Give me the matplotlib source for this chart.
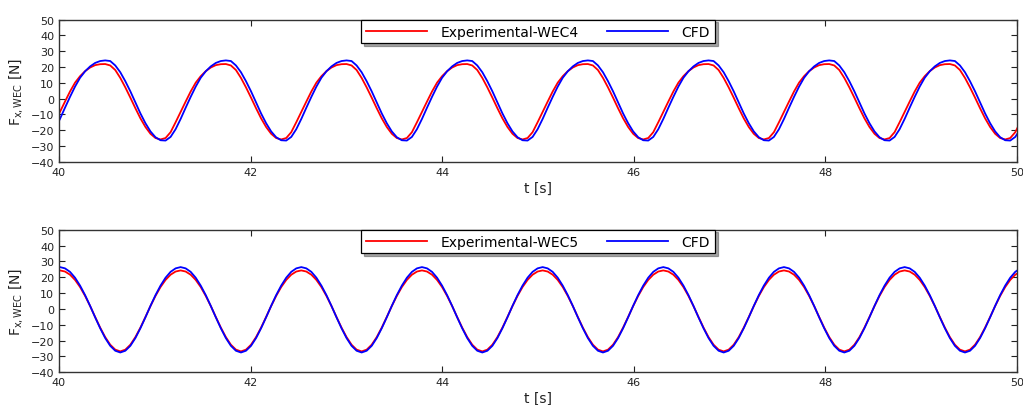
import numpy as np
import matplotlib
matplotlib.use("Agg")
import matplotlib.pyplot as plt

# ---- sampling grid (s) ----
t_start = 39.9575
dt = 0.0525
n_samples = 193
t = np.round(t_start + np.arange(n_samples) * dt, 4)

# ---- WEC4 (top panel) ----
wec4_exp = [
    -15.0, -8.4, -1.9, 4.5, 10.1, 14.2, 17.4, 19.7, 21.2, 21.8, 21.9, 21.0, 18.1, 13.1, 7.1, 0.6, -6.1, -12.5, -18.0, -22.3, -25.0,
    -25.9, -25.0, -21.3, -15.0, -8.4, -1.9, 4.5, 10.1, 14.2, 17.4, 19.7, 21.2, 21.8, 21.9, 21.0, 18.1, 13.1, 7.1, 0.6, -6.1, -12.5, -18.0, -22.3, -25.0,
    -25.9, -25.0, -21.3, -15.0, -8.4, -1.9, 4.5, 10.1, 14.2, 17.4, 19.7, 21.2, 21.8, 21.9, 21.0, 18.1, 13.1, 7.1, 0.6, -6.1, -12.5, -18.0, -22.3, -25.0,
    -25.9, -25.0, -21.3, -15.0, -8.4, -1.9, 4.5, 10.1, 14.2, 17.4, 19.7, 21.2, 21.8, 21.9, 21.0, 18.1, 13.1, 7.1, 0.6, -6.1, -12.5, -18.0, -22.3, -25.0,
    -25.9, -25.0, -21.3, -15.0, -8.4, -1.9, 4.5, 10.1, 14.2, 17.4, 19.7, 21.2, 21.8, 21.9, 21.0, 18.1, 13.1, 7.1, 0.6, -6.1, -12.5, -18.0, -22.3, -25.0,
    -25.9, -25.0, -21.3, -15.0, -8.4, -1.9, 4.5, 10.1, 14.2, 17.4, 19.7, 21.2, 21.8, 21.9, 21.0, 18.1, 13.1, 7.1, 0.6, -6.1, -12.5, -18.0, -22.3, -25.0,
    -25.9, -25.0, -21.3, -15.0, -8.4, -1.9, 4.5, 10.1, 14.2, 17.4, 19.7, 21.2, 21.8, 21.9, 21.0, 18.1, 13.1, 7.1, 0.6, -6.1, -12.5, -18.0, -22.3, -25.0,
    -25.9, -25.0, -21.3, -15.0, -8.4, -1.9, 4.5, 10.1, 14.2, 17.4, 19.7, 21.2, 21.8, 21.9, 21.0, 18.1, 13.1, 7.1, 0.6, -6.1, -12.5, -18.0, -22.3, -25.0,
    -25.9, -25.0, -21.3, -15.0,
]
wec4_cfd = [
    -19.4, -12.9, -5.8, 1.1, 7.6, 13.2, 17.3, 20.4, 22.6, 23.8, 24.2, 23.8, 21.0, 16.7, 11.0, 4.6, -2.4, -9.4, -15.6, -20.8, -24.5,
    -26.4, -26.6, -24.3, -19.4, -12.9, -5.8, 1.1, 7.6, 13.2, 17.3, 20.4, 22.6, 23.8, 24.2, 23.8, 21.0, 16.7, 11.0, 4.6, -2.4, -9.4, -15.6, -20.8, -24.5,
    -26.4, -26.6, -24.3, -19.4, -12.9, -5.8, 1.1, 7.6, 13.2, 17.3, 20.4, 22.6, 23.8, 24.2, 23.8, 21.0, 16.7, 11.0, 4.6, -2.4, -9.4, -15.6, -20.8, -24.5,
    -26.4, -26.6, -24.3, -19.4, -12.9, -5.8, 1.1, 7.6, 13.2, 17.3, 20.4, 22.6, 23.8, 24.2, 23.8, 21.0, 16.7, 11.0, 4.6, -2.4, -9.4, -15.6, -20.8, -24.5,
    -26.4, -26.6, -24.3, -19.4, -12.9, -5.8, 1.1, 7.6, 13.2, 17.3, 20.4, 22.6, 23.8, 24.2, 23.8, 21.0, 16.7, 11.0, 4.6, -2.4, -9.4, -15.6, -20.8, -24.5,
    -26.4, -26.6, -24.3, -19.4, -12.9, -5.8, 1.1, 7.6, 13.2, 17.3, 20.4, 22.6, 23.8, 24.2, 23.8, 21.0, 16.7, 11.0, 4.6, -2.4, -9.4, -15.6, -20.8, -24.5,
    -26.4, -26.6, -24.3, -19.4, -12.9, -5.8, 1.1, 7.6, 13.2, 17.3, 20.4, 22.6, 23.8, 24.2, 23.8, 21.0, 16.7, 11.0, 4.6, -2.4, -9.4, -15.6, -20.8, -24.5,
    -26.4, -26.6, -24.3, -19.4, -12.9, -5.8, 1.1, 7.6, 13.2, 17.3, 20.4, 22.6, 23.8, 24.2, 23.8, 21.0, 16.7, 11.0, 4.6, -2.4, -9.4, -15.6, -20.8, -24.5,
    -26.4, -26.6, -24.3, -19.4,
]

# ---- WEC5 (bottom panel) ----
wec5_exp = [
    23.6, 24.3, 23.6, 21.6, 18.3, 13.8, 8.2, 1.8, -5.1, -11.8, -17.8, -22.6, -25.7,
    -26.8, -25.7, -22.6, -17.8, -11.8, -5.1, 1.8, 8.2, 13.8, 18.3, 21.6, 23.6, 24.3, 23.6, 21.6, 18.3, 13.8, 8.2, 1.8, -5.1, -11.8, -17.8, -22.6, -25.7,
    -26.8, -25.7, -22.6, -17.8, -11.8, -5.1, 1.8, 8.2, 13.8, 18.3, 21.6, 23.6, 24.3, 23.6, 21.6, 18.3, 13.8, 8.2, 1.8, -5.1, -11.8, -17.8, -22.6, -25.7,
    -26.8, -25.7, -22.6, -17.8, -11.8, -5.1, 1.8, 8.2, 13.8, 18.3, 21.6, 23.6, 24.3, 23.6, 21.6, 18.3, 13.8, 8.2, 1.8, -5.1, -11.8, -17.8, -22.6, -25.7,
    -26.8, -25.7, -22.6, -17.8, -11.8, -5.1, 1.8, 8.2, 13.8, 18.3, 21.6, 23.6, 24.3, 23.6, 21.6, 18.3, 13.8, 8.2, 1.8, -5.1, -11.8, -17.8, -22.6, -25.7,
    -26.8, -25.7, -22.6, -17.8, -11.8, -5.1, 1.8, 8.2, 13.8, 18.3, 21.6, 23.6, 24.3, 23.6, 21.6, 18.3, 13.8, 8.2, 1.8, -5.1, -11.8, -17.8, -22.6, -25.7,
    -26.8, -25.7, -22.6, -17.8, -11.8, -5.1, 1.8, 8.2, 13.8, 18.3, 21.6, 23.6, 24.3, 23.6, 21.6, 18.3, 13.8, 8.2, 1.8, -5.1, -11.8, -17.8, -22.6, -25.7,
    -26.8, -25.7, -22.6, -17.8, -11.8, -5.1, 1.8, 8.2, 13.8, 18.3, 21.6, 23.6, 24.3, 23.6, 21.6, 18.3, 13.8, 8.2, 1.8, -5.1, -11.8, -17.8, -22.6, -25.7,
    -26.8, -25.7, -22.6, -17.8, -11.8, -5.1, 1.8, 8.2, 13.8, 18.3, 21.6, 23.6,
]
wec5_cfd = [
    25.6, 26.4, 25.6, 23.4, 19.7, 14.7, 8.7, 1.9, -5.3, -12.2, -18.4, -23.3, -26.4,
    -27.5, -26.4, -23.3, -18.4, -12.2, -5.3, 1.9, 8.7, 14.7, 19.7, 23.4, 25.6, 26.4, 25.6, 23.4, 19.7, 14.7, 8.7, 1.9, -5.3, -12.2, -18.4, -23.3, -26.4,
    -27.5, -26.4, -23.3, -18.4, -12.2, -5.3, 1.9, 8.7, 14.7, 19.7, 23.4, 25.6, 26.4, 25.6, 23.4, 19.7, 14.7, 8.7, 1.9, -5.3, -12.2, -18.4, -23.3, -26.4,
    -27.5, -26.4, -23.3, -18.4, -12.2, -5.3, 1.9, 8.7, 14.7, 19.7, 23.4, 25.6, 26.4, 25.6, 23.4, 19.7, 14.7, 8.7, 1.9, -5.3, -12.2, -18.4, -23.3, -26.4,
    -27.5, -26.4, -23.3, -18.4, -12.2, -5.3, 1.9, 8.7, 14.7, 19.7, 23.4, 25.6, 26.4, 25.6, 23.4, 19.7, 14.7, 8.7, 1.9, -5.3, -12.2, -18.4, -23.3, -26.4,
    -27.5, -26.4, -23.3, -18.4, -12.2, -5.3, 1.9, 8.7, 14.7, 19.7, 23.4, 25.6, 26.4, 25.6, 23.4, 19.7, 14.7, 8.7, 1.9, -5.3, -12.2, -18.4, -23.3, -26.4,
    -27.5, -26.4, -23.3, -18.4, -12.2, -5.3, 1.9, 8.7, 14.7, 19.7, 23.4, 25.6, 26.4, 25.6, 23.4, 19.7, 14.7, 8.7, 1.9, -5.3, -12.2, -18.4, -23.3, -26.4,
    -27.5, -26.4, -23.3, -18.4, -12.2, -5.3, 1.9, 8.7, 14.7, 19.7, 23.4, 25.6, 26.4, 25.6, 23.4, 19.7, 14.7, 8.7, 1.9, -5.3, -12.2, -18.4, -23.3, -26.4,
    -27.5, -26.4, -23.3, -18.4, -12.2, -5.3, 1.9, 8.7, 14.7, 19.7, 23.4, 25.6,
]

x_ticks = [40, 42, 44, 46, 48, 50]
y_ticks = [-40, -30, -20, -10, 0, 10, 20, 30, 40, 50]
panels = [
    ("Experimental-WEC4", wec4_exp, wec4_cfd),
    ("Experimental-WEC5", wec5_exp, wec5_cfd),
]

plt.rcParams["font.family"] = ["DejaVu Sans"]
plt.rcParams["font.size"] = 10

W, H = 1023, 406
fig = plt.figure(figsize=(W / 100, H / 100), dpi=100)
left_px, right_px = 59, 1016.7
axes_px = [(20.7, 162.7), (230.7, 373.3)]

for (label, exp_vals, cfd_vals), (top_px, bot_px) in zip(panels, axes_px):
    ax = fig.add_axes([left_px / W, 1 - bot_px / H,
                       (right_px - left_px) / W, (bot_px - top_px) / H])
    ax.plot(t, exp_vals, color="#ff0000", lw=1.3, label=label)
    ax.plot(t, cfd_vals, color="#0000ff", lw=1.3, label="CFD")
    ax.set_xlim(40, 50)
    ax.set_ylim(-40, 50)
    ax.set_xticks(x_ticks)
    ax.set_yticks(y_ticks)
    ax.tick_params(direction="in", top=True, right=True, length=4, width=0.8,
                   labelsize=8, pad=3.5, colors="#222222", labelcolor="#222222")
    for sp in ax.spines.values():
        sp.set_color("#333333")
        sp.set_linewidth(1.0)
    ax.set_xlabel("t [s]", fontsize=10, labelpad=3, color="#222222")
    ax.set_ylabel(r"$\mathrm{F_{x,WEC}}$ [N]", fontsize=10, labelpad=4, color="#222222")
    leg = ax.legend(loc="upper center", ncol=2, borderaxespad=0.0,
                    handlelength=4.4, handletextpad=1.0, columnspacing=2.0,
                    fancybox=False, shadow=True, framealpha=1.0, fontsize=10,
                    borderpad=0.35)
    leg.get_frame().set_edgecolor("#000000")
    leg.get_frame().set_linewidth(0.9)

fig.savefig("out.png", dpi=100)
